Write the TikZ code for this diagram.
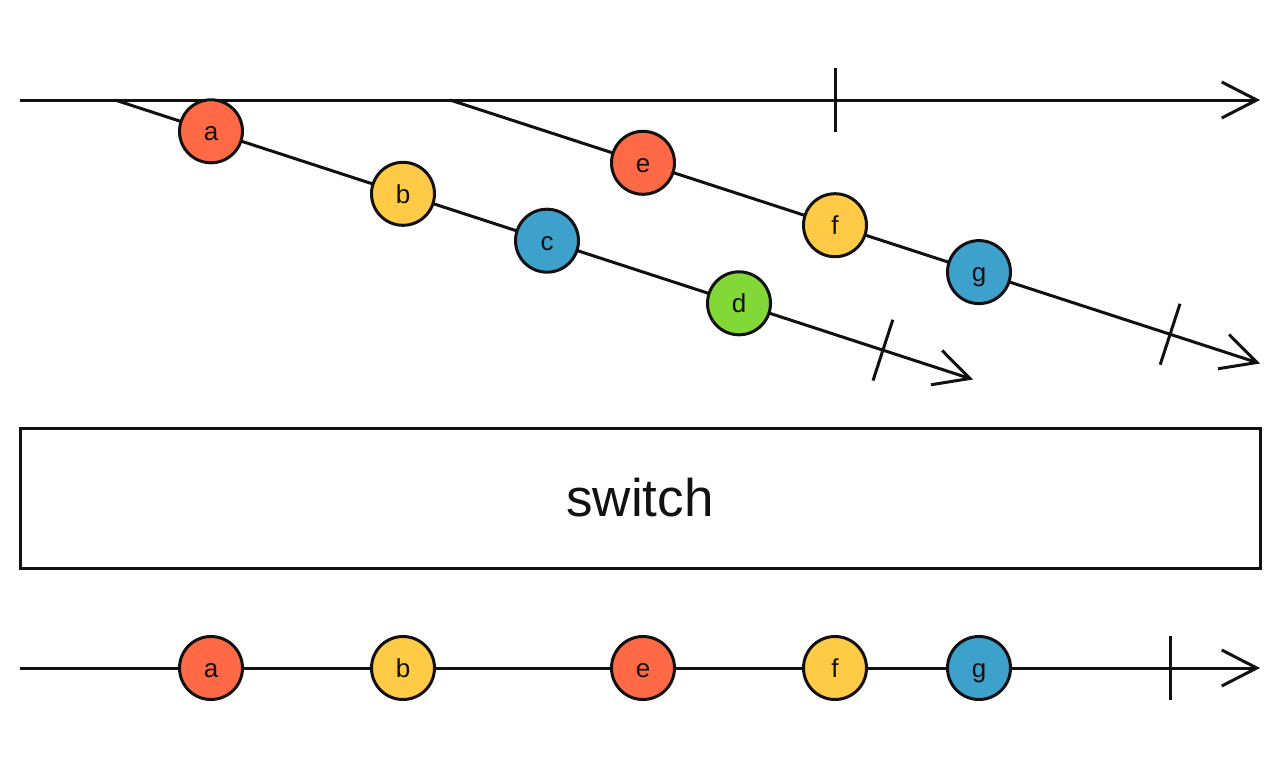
\documentclass[tikz,border=0pt]{standalone}
\usepackage{fontspec}
\setmainfont{Liberation Sans}
\usetikzlibrary{arrows.meta,calc}
\definecolor{ink}{HTML}{111111}
\definecolor{cred}{HTML}{FF6946}
\definecolor{cyel}{HTML}{FFCB46}
\definecolor{cblue}{HTML}{3EA1CB}
\definecolor{cgreen}{HTML}{82D836}
\tikzset{
  tl/.style={draw=ink,line width=3pt},
  timeline/.style={tl,-{Straight Barb[length=35pt,width=36pt,line width=3pt]}},
  marble/.style={circle,draw=ink,line width=3pt,minimum size=63pt,inner sep=0pt,
    text height=19pt,text depth=0pt,
    font=\fontsize{26}{26}\selectfont,text=ink},
  opbox/.style={draw=ink,line width=3pt,minimum width=1240pt,minimum height=140pt,
    inner sep=0pt,font=\fontsize{53}{53}\selectfont,text=ink}
}
\begin{document}
\begin{tikzpicture}[x=1pt,y=-1pt]
\useasboundingbox (0,0) rectangle (1280,768);
% top source timeline
\coordinate (ts) at (20,100);
\coordinate (te) at (1260,100);
\draw[timeline] (ts) -- (te);
\coordinate (tt1) at (835,68);
\coordinate (tt2) at (835,132);
\draw[tl] (tt1) -- (tt2);
% inner timeline 1
\coordinate (s1) at (115,100);
\coordinate (e1) at (973,379.5);
\draw[timeline] (s1) -- (e1);
\coordinate (k1) at ($(s1)!0.895!(e1)$);
\draw[tl] ($(k1)!32pt!90:(e1)$) -- ($(k1)!32pt!-90:(e1)$);
% inner timeline 2
\coordinate (s2) at (450,100);
\coordinate (e2) at (1260,363.5);
\draw[timeline] (s2) -- (e2);
\coordinate (k2) at ($(s2)!0.889!(e2)$);
\draw[tl] ($(k2)!32pt!90:(e2)$) -- ($(k2)!32pt!-90:(e2)$);
% marbles on inner 1
\node[marble,fill=cred]   (a1) at (211,131.3) {a};
\node[marble,fill=cyel]   (b1) at (403,193.8) {b};
\node[marble,fill=cblue]  (c1) at (547,240.7) {c};
\node[marble,fill=cgreen] (d1) at (739,303.3) {d};
% marbles on inner 2
\node[marble,fill=cred]   (e1m) at (643,162.8) {e};
\node[marble,fill=cyel]   (f1m) at (835,225.2) {f};
\node[marble,fill=cblue]  (g1m) at (979,272.1) {g};
% operator box
\node[opbox] (op) at (640,498) {switch};
% output timeline
\coordinate (os) at (20,668);
\coordinate (oe) at (1260,668);
\draw[timeline] (os) -- (oe);
\coordinate (ot1) at (1170,636);
\coordinate (ot2) at (1170,700);
\draw[tl] (ot1) -- (ot2);
\node[marble,fill=cred]  (oa) at (211,668) {a};
\node[marble,fill=cyel]  (ob) at (403,668) {b};
\node[marble,fill=cred]  (oe2) at (643,668) {e};
\node[marble,fill=cyel]  (of) at (835,668) {f};
\node[marble,fill=cblue] (og) at (979,668) {g};
\end{tikzpicture}
\end{document}
